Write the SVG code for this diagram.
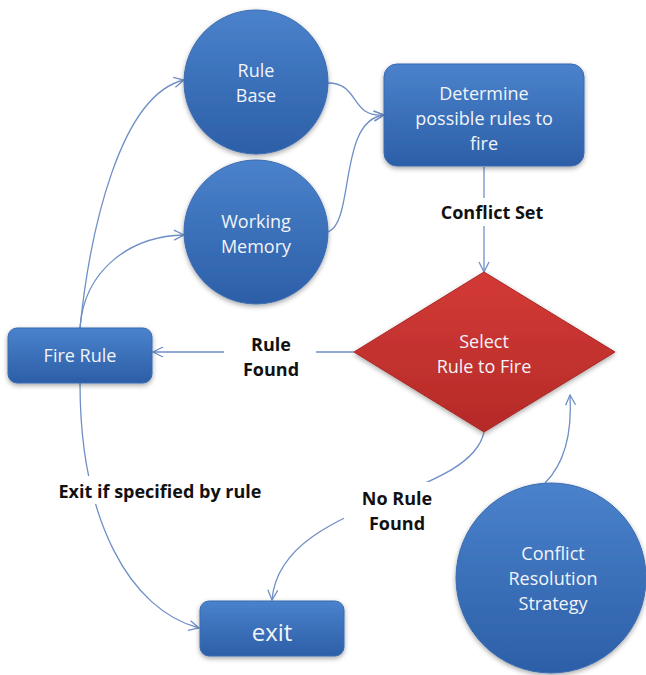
<svg xmlns="http://www.w3.org/2000/svg" width="646" height="675" viewBox="0 0 646 675">
  <defs>
    <linearGradient id="blueFill" x1="0" y1="0" x2="0" y2="1">
      <stop offset="0" stop-color="#4A82CB"/>
      <stop offset="1" stop-color="#2C5FA8"/>
    </linearGradient>
    <linearGradient id="redFill" x1="0" y1="0" x2="0" y2="1">
      <stop offset="0" stop-color="#D33A36"/>
      <stop offset="1" stop-color="#B52A28"/>
    </linearGradient>
    <filter id="shadow" x="-20%" y="-20%" width="140%" height="140%">
      <feDropShadow dx="0" dy="2" stdDeviation="2.5" flood-color="#000" flood-opacity="0.35"/>
    </filter>
    <marker id="arrow" viewBox="0 0 12 12" refX="11" refY="6" markerWidth="12" markerHeight="12" markerUnits="userSpaceOnUse" orient="auto">
      <path d="M1,1 L11,6 L1,11" fill="none" stroke="#6F8FC6" stroke-width="1.3"/>
    </marker>
  </defs>
  <style>
    .node { fill: url(#blueFill); stroke: #3A6BB0; stroke-width: 1; filter: url(#shadow); }
    .decision { fill: url(#redFill); stroke: #A82624; stroke-width: 1; filter: url(#shadow); }
    .ntext { font-family: "Open Sans", "Noto Sans", "Liberation Sans", sans-serif; font-size: 18px; fill: #F2F4F8; text-anchor: middle; }
    .label { font-family: "Open Sans", "Noto Sans", "Liberation Sans", sans-serif; font-size: 18px; font-weight: bold; fill: #111; text-anchor: middle; }
    .edge { fill: none; stroke: #6F8FC6; stroke-width: 1.3; }
  </style>

  <rect width="646" height="675" fill="#FFFFFF"/>

  <!-- connectors -->
  <g id="connectors">
    <path class="edge" d="M80,328 C90,230 120,95 184,80" marker-end="url(#arrow)"/>
    <path class="edge" d="M80,328 C84,270 130,236 184,235" marker-end="url(#arrow)"/>
    <path class="edge" d="M328,83 C360,83 350,118 384,115" marker-end="url(#arrow)"/>
    <path class="edge" d="M328,232 C355,222 338,120 384,115" marker-end="url(#arrow)"/>
    <path class="edge" d="M484,167 L484,272" marker-end="url(#arrow)"/>
    <path class="edge" d="M354,352 L153,352" marker-end="url(#arrow)"/>
    <path class="edge" d="M80,383 C80,520 130,610 199,628" marker-end="url(#arrow)"/>
    <path class="edge" d="M484,432 C470,500 280,500 272,600" marker-end="url(#arrow)"/>
    <path class="edge" d="M545,483 C566,462 572,430 570,395" marker-end="url(#arrow)"/>
  </g>

  <!-- edge labels (white backing breaks the lines) -->
  <g id="edge-labels">
    <rect x="434" y="198" width="116" height="28" fill="#FFFFFF"/>
    <text class="label" x="492" y="219">Conflict Set</text>
    <rect x="224" y="328" width="92" height="52" fill="#FFFFFF"/>
    <text class="label" x="271" y="351">Rule</text>
    <text class="label" x="271" y="376">Found</text>
    <rect x="52" y="476" width="218" height="28" fill="#FFFFFF"/>
    <text class="label" x="160" y="498">Exit if specified by rule</text>
    <rect x="344" y="482" width="108" height="54" fill="#FFFFFF"/>
    <text class="label" x="397" y="505">No Rule</text>
    <text class="label" x="397" y="530">Found</text>
  </g>

  <g id="rule-base">
    <circle class="node" cx="256" cy="82" r="72"/>
    <text class="ntext" x="256" y="77">Rule</text>
    <text class="ntext" x="256" y="102">Base</text>
  </g>

  <g id="working-memory">
    <circle class="node" cx="256" cy="232" r="72"/>
    <text class="ntext" x="256" y="228">Working</text>
    <text class="ntext" x="256" y="253">Memory</text>
  </g>

  <g id="determine">
    <rect class="node" x="384" y="64" width="200" height="102" rx="13"/>
    <text class="ntext" x="484" y="100">Determine</text>
    <text class="ntext" x="484" y="125">possible rules to</text>
    <text class="ntext" x="484" y="150">fire</text>
  </g>

  <g id="select-rule">
    <polygon class="decision" points="484,272 615,352 484,432 354,352"/>
    <text class="ntext" x="484" y="348">Select</text>
    <text class="ntext" x="484" y="373">Rule to Fire</text>
  </g>

  <g id="fire-rule">
    <rect class="node" x="8" y="328" width="144" height="55" rx="9"/>
    <text class="ntext" x="80" y="362">Fire Rule</text>
  </g>

  <g id="exit">
    <rect class="node" x="200" y="601" width="144" height="55" rx="9"/>
    <text class="ntext" x="272" y="641" style="font-size:24px">exit</text>
  </g>

  <g id="conflict-resolution">
    <circle class="node" cx="551" cy="578" r="95"/>
    <text class="ntext" x="553" y="560">Conflict</text>
    <text class="ntext" x="553" y="585">Resolution</text>
    <text class="ntext" x="553" y="610">Strategy</text>
  </g>
</svg>
